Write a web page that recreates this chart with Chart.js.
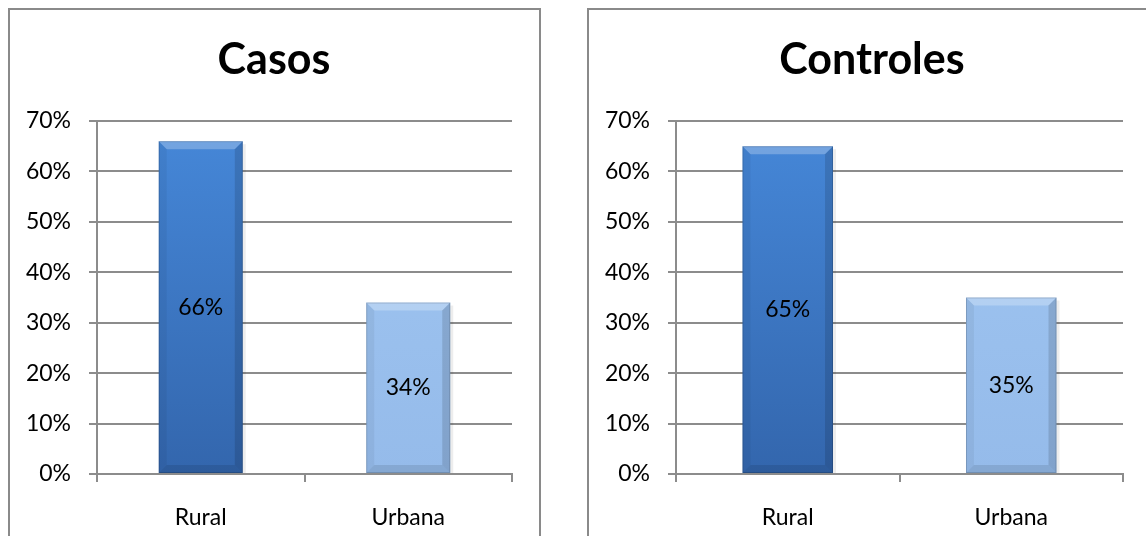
<!DOCTYPE html>
<html>
<head>
<meta charset="utf-8">
<script src="https://cdn.jsdelivr.net/npm/chart.js@4/dist/chart.umd.min.js"></script>
<style>
  html, body { margin: 0; padding: 0; background: #fff; overflow: hidden; }
  body { width: 1146px; height: 536px; position: relative; }
  .marco { position: absolute; box-sizing: border-box; border: 2px solid #8a8a8a; }
  .lienzo { position: absolute; }
</style>
</head>
<body>
<div class="marco" style="left:8px; top:8px; width:533px; height:560px;"></div>
<div class="marco" style="left:587px; top:8px; width:600px; height:560px;"></div>
<div class="lienzo" style="left:8px; top:8px; width:532px; height:528px;"><canvas id="chartCasos"></canvas></div>
<div class="lienzo" style="left:588px; top:8px; width:568px; height:528px;"><canvas id="chartControles"></canvas></div>
<script>
// ---------------- Datos ----------------
const categorias = ['Rural', 'Urbana'];
const casos = [66, 34];
const controles = [65, 35];
const ejeYMax = 70;
const ejeYPaso = 10;

const FUENTE = 'Lato, "Open Sans", sans-serif';
const COLOR_RURAL = ['#4688d9', '#3366ad'];
const COLOR_URBANA = ['#a0c6f2', '#95bbea'];

// relleno con degradado vertical
function relleno(ctx) {
    const chart = ctx.chart;
    const area = chart.chartArea;
    if (!area) return COLOR_RURAL[0];
    const par = ctx.dataIndex === 0 ? COLOR_RURAL : COLOR_URBANA;
    const g = chart.ctx.createLinearGradient(0, area.top, 0, area.bottom);
    g.addColorStop(0, par[0]);
    g.addColorStop(1, par[1]);
    return g;
}

// titulo centrado en el marco (no en el area del grafico)
const tituloPlugin = {
    id: 'tituloMarco',
    afterDraw(chart, args, opts) {
        const ctx = chart.ctx;
        ctx.save();
        ctx.fillStyle = '#000';
        ctx.font = 'bold 43px ' + FUENTE;
        ctx.textAlign = 'center';
        ctx.textBaseline = 'middle';
        ctx.fillText(opts.texto, opts.x, opts.y);
        ctx.restore();
    }
};

// bisel estilo Excel + etiquetas dentro de la barra
const biselPlugin = {
    id: 'bisel',
    afterDatasetsDraw(chart) {
        const ctx = chart.ctx;
        const meta = chart.getDatasetMeta(0);
        const b = 8;
        meta.data.forEach((bar, i) => {
            const x0 = bar.x - bar.width / 2;
            const x1 = bar.x + bar.width / 2;
            const y0 = bar.y;
            const y1 = bar.base;
            ctx.save();
            // sombra a la derecha
            ctx.fillStyle = 'rgba(0,0,0,0.07)';
            ctx.fillRect(x1, y0 + 3, 3, y1 - y0 - 3);
            // arriba (claro)
            ctx.fillStyle = 'rgba(255,255,255,0.25)';
            ctx.beginPath();
            ctx.moveTo(x0, y0); ctx.lineTo(x1, y0); ctx.lineTo(x1 - b, y0 + b); ctx.lineTo(x0 + b, y0 + b);
            ctx.closePath(); ctx.fill();
            // izquierda
            ctx.fillStyle = 'rgba(0,0,0,0.05)';
            ctx.beginPath();
            ctx.moveTo(x0, y0); ctx.lineTo(x0 + b, y0 + b); ctx.lineTo(x0 + b, y1 - b); ctx.lineTo(x0, y1);
            ctx.closePath(); ctx.fill();
            // derecha
            ctx.fillStyle = 'rgba(0,0,0,0.13)';
            ctx.beginPath();
            ctx.moveTo(x1, y0); ctx.lineTo(x1 - b, y0 + b); ctx.lineTo(x1 - b, y1 - b); ctx.lineTo(x1, y1);
            ctx.closePath(); ctx.fill();
            // abajo
            ctx.fillStyle = 'rgba(0,0,0,0.10)';
            ctx.beginPath();
            ctx.moveTo(x0, y1); ctx.lineTo(x0 + b, y1 - b); ctx.lineTo(x1 - b, y1 - b); ctx.lineTo(x1, y1);
            ctx.closePath(); ctx.fill();
            // borde
            ctx.strokeStyle = 'rgba(0,0,0,0.15)';
            ctx.lineWidth = 1;
            ctx.strokeRect(x0 + 0.5, y0 + 0.5, bar.width - 1, y1 - y0 - 1);
            // etiqueta
            const valor = chart.data.datasets[0].data[i];
            ctx.fillStyle = '#000';
            ctx.font = '23px ' + FUENTE;
            ctx.textAlign = 'center';
            ctx.textBaseline = 'middle';
            ctx.fillText(valor + '%', bar.x, (y0 + y1) / 2);
            ctx.restore();
        });
    }
};

function crearGrafico(id, titulo, valores, tituloX, padDerecha, anchoEje) {
    return new Chart(document.getElementById(id), {
        type: 'bar',
        data: {
            labels: categorias,
            datasets: [{
                data: valores,
                backgroundColor: relleno,
                barPercentage: 0.5,
                categoryPercentage: 0.81
            }]
        },
        options: {
            responsive: true,
            maintainAspectRatio: false,
            animation: false,
            layout: { padding: { top: 113, right: padDerecha, bottom: 0, left: 0 } },
            plugins: {
                legend: { display: false },
                tooltip: { enabled: false },
                title: { display: false },
                tituloMarco: { texto: titulo, x: tituloX, y: 52 }
            },
            scales: {
                x: {
                    afterFit(scale) { scale.height = 62; },
                    grid: {
                        offset: true,
                        drawOnChartArea: false,
                        color: '#8c8c8c',
                        lineWidth: 2,
                        tickLength: 8
                    },
                    border: { color: '#8c8c8c', width: 2 },
                    ticks: { color: '#000', padding: 22, font: { family: FUENTE, size: 23 } }
                },
                y: {
                    min: 0,
                    max: ejeYMax,
                    afterFit(scale) { scale.width = anchoEje; },
                    grid: { color: '#8c8c8c', lineWidth: 2, tickLength: 8 },
                    border: { color: '#8c8c8c', width: 2 },
                    ticks: {
                        stepSize: ejeYPaso,
                        color: '#000',
                        padding: 18,
                        font: { family: FUENTE, size: 23 },
                        callback: v => v + '%'
                    }
                }
            }
        },
        plugins: [biselPlugin, tituloPlugin]
    });
}

crearGrafico('chartCasos', 'Casos', casos, 266, 28, 89);
crearGrafico('chartControles', 'Controles', controles, 284, 33, 88);
</script>
</body>
</html>
